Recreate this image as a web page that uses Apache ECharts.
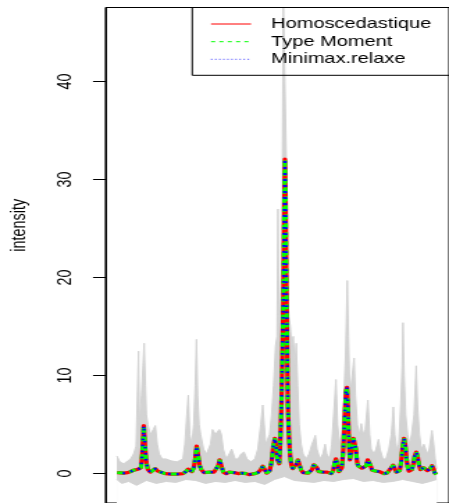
<!DOCTYPE html>
<html><head><meta charset="utf-8">
<script src="https://cdn.jsdelivr.net/npm/echarts@6/dist/echarts.min.js"></script>
<style>
html,body{margin:0;padding:0;background:#fff;overflow:hidden;width:449px;height:503px}
#chart{width:323px;height:503px;transform:scaleX(1.39009);transform-origin:0 0;}
</style>
</head><body><div id="chart"></div>
<script>
// ---- data (x = spectral index, y = intensity) ----
const seriesNames = ['Homoscedastique', 'Type Moment', 'Minimax.relaxe'];
const seriesColors = ['#ff0000', '#00ff00', '#0000ff'];
const yTicks = [0, 10, 20, 30, 40];

const meanX = [0.3,3,7,11,14,17,19.5,21.5,23,24.5,25.8,27.3,28.5,29.8,31.5,34,36.5,39,41.5,44,49,55,61,67,70,72.3,74,76,78,79.5,81,82.5,84,86,88.5,91,94,96.3,98.5,101,102.8,104.3,106,108,111,114,116.3,119,123,127,129,131,134,137,140,143,146,148,150,152,153.5,155,157,158.7,160.3,161.8,163,164.7,165.7,167,168,169,169.8,170.5,171.3,172.3,173.5,174.5,175.7,177,178.5,180,181.7,183.7,185.3,187,189,191.3,194,196,198,199.8,201.3,203,204.8,206.8,209.3,211.3,213.3,215.5,217.5,219.5,221,222.3,223.8,225.3,226.8,228.3,229.8,231.3,232.5,233.5,234.5,235.5,236.5,237.5,238.7,240,241.3,242.5,243.7,244.7,246,247.3,248.7,250,251.5,253,254.5,256,257.5,259,261,263,264.7,266.5,268.5,271,274,276.5,278.5,280.3,282,283.5,285.5,287,288.5,289.8,291.3,292.5,293.8,295,296.3,297.8,299.3,300.8,302.3,303.7,305,306.5,308,309.5,311,312.3,313.8,315,316.5,318,319.7,321.2,322.5,324];
const meanVals = [0.1,0.0,0.05,0.1,0.2,0.35,0.55,0.45,0.3,0.6,2.0,4.9,3.0,1.2,0.4,0.15,0.25,0.5,0.25,0.05,0.0,-0.05,-0.05,0.0,0.2,0.45,0.25,0.2,0.6,1.5,2.8,1.8,0.8,0.35,0.1,0.05,0.15,0.3,0.15,0.2,0.8,1.4,0.8,0.15,0.0,0.15,0.35,0.1,0.0,0.05,0.1,0.0,-0.1,-0.05,0.0,0.1,0.4,0.75,0.4,0.05,-0.1,0.3,1.2,2.8,3.6,2.6,1.4,1.0,3.0,7,12,18,27,32.1,28,17,7,4,2.0,0.9,0.5,0.5,0.9,1.4,0.9,0.35,0.1,0.0,0.05,0.1,0.4,0.9,1.1,0.6,0.2,0.05,0.15,0.35,0.15,-0.05,0.0,0.3,1.1,1.5,0.9,0.2,0.1,0.6,2.5,6.0,8.4,8.8,6.5,3.0,1.4,1.5,2.8,3.6,3.8,2.5,1.2,0.8,0.85,0.9,0.55,0.45,0.5,0.8,1.4,1.4,0.8,0.35,0.15,0.25,0.4,0.2,0.05,0.0,0.05,0.2,0.6,0.85,0.5,0.15,0.05,0.3,1.2,2.6,3.6,3.0,1.6,0.7,0.25,0.1,0.4,1.0,1.8,2.2,1.8,0.9,0.4,0.3,0.6,0.7,0.5,0.3,0.2,0.5,0.8,0.5,0.1,-0.1];

// upper envelope of the individual (grey) spectra
const greyHighX = [0,3,7,11,14,17,19.5,21,22,23,25,26.5,27.7,29,30,31.5,34,37,39,41,43,46,50,55,61,67,69,71,72.5,74,76,78,79.5,80.8,82,83.5,85,88,91,95,97,100,102,104,106,108,111,114,116.5,120,123,126,129,132,136,140,143,146,148,149.5,151,153,155,157,159,161,162.5,163.5,164.5,166,167.5,168.8,171.2,172.3,173.3,174.5,176,177.5,179,180.5,182,183.5,185,187,189,192,195,198,200,201.3,203,206,209,211.3,213,216,218,220,222.3,224,226,228,230,232,233.8,235,236.5,238,240.7,242,244,246,248,250,252,254.7,256.5,258,261,263,265.5,267,270,273,276,278.5,280.5,282,284,286,288,289.5,290.3,291.5,293,295,297,299,301.5,303.7,305,307,309,311.5,313,315,317,319.7,321.5,323,324.5];
const greyHigh = [1.8,1.2,1.0,1.3,1.5,2.0,2.8,3.0,12.5,5,8,11,13.3,9,6,5,4,4.5,4.9,3,2,1.5,1.5,1.3,1.2,1.5,3,6,8,4,3,5,9,13.7,8,5,4,2.5,2,3,4.5,4.0,4.2,4.5,4,2.5,1.5,2,2.5,1.5,1.5,2,2.2,1.5,1.2,1.5,2.5,5,7,5,3,3,4,6,9,13,14,27,15,17,22,49,49,30,18,16,15,13,14,11,13.3,9,5,3,2,1.5,2,3,3.5,3.9,2.5,1.5,2,3.0,2,1.5,3,6,9.6,5,3,4,7,12,19.7,14,8,8,11.8,8,5,4,5.1,4,4.5,7.5,4,2.5,2,2.5,3.5,2.5,1.5,1.5,2.5,4,6.8,4,2.5,3,7,11,15.4,10,6,4,3,4,6,11,7,4,2.5,3,3.0,2,2.5,4.4,3,1.5,0.5];

// lower envelope of the individual (grey) spectra
const greyLowX = [0,5,12,20,30,40,50,60,70,80,90,100,110,120,130,140,150,160,170,180,190,200,210,220,230,240,250,260,270,280,290,300,310,318,324.5];
const greyLow = [-0.6,-1.0,-0.8,-1.2,-0.7,-1.0,-0.8,-0.9,-0.6,-0.7,-1.0,-0.8,-0.9,-0.7,-0.9,-0.8,-1.1,-0.6,-0.3,-0.7,-0.8,-0.9,-0.7,-0.8,-0.6,-0.5,-0.8,-0.7,-0.9,-0.8,-0.6,-0.8,-1.0,-0.8,-0.6];

const pairs = (xs, ys) => xs.map((x, i) => [x, ys[i]]);

const FONT = "'Liberation Sans', Arial, Helvetica, sans-serif";
const GREY = '#d3d3d3';

// legend drawn as graphic elements (R style box legend)
const legendDash = [null, [3, 3], [0.75, 2.2]];
const legendRowY = [24, 41.7, 59.3];
const legendGraphic = [{
  type: 'rect', shape: {x: 138.3, y: 7.5, width: 220, height: 67.8},
  style: {fill: 'none', stroke: '#000', lineWidth: 1}, z: 100
}];
seriesNames.forEach((n, i) => {
  legendGraphic.push({
    type: 'line', shape: {x1: 151.8, y1: legendRowY[i], x2: 180.6, y2: legendRowY[i]},
    style: {stroke: seriesColors[i], lineWidth: 1, lineDash: legendDash[i]}, z: 100
  });
  legendGraphic.push({
    type: 'text', x: 195, y: legendRowY[i],
    style: {text: n, font: '14.4px ' + FONT, fill: '#000', align: 'left', verticalAlign: 'middle'}, z: 100
  });
});

const chart = echarts.init(document.getElementById('chart'), null, {renderer: 'canvas'});
chart.setOption({
  animation: false,
  backgroundColor: '#ffffff',
  grid: {
    left: 75.9, top: 7.5, width: 250.7, height: 497,
    show: true, borderColor: '#000', borderWidth: 1, backgroundColor: 'transparent',
    containLabel: false
  },
  xAxis: {
    type: 'value', min: -11.5, max: 337, show: false
  },
  yAxis: {
    type: 'value', min: -3, max: 47.56,
    axisLine: {show: true, onZero: false, lineStyle: {color: '#000', width: 1}},
    axisTick: {show: true, length: 9, customValues: yTicks, lineStyle: {color: '#000', width: 1}},
    axisLabel: {show: true, customValues: yTicks, rotate: 90, margin: 22,
      fontSize: 14.4, fontFamily: FONT, color: '#000'},
    splitLine: {show: false}
  },
  graphic: [{
    type: 'text', x: 13.8, y: 225.3, rotation: Math.PI / 2,
    style: {text: 'intensity', font: '14.4px ' + FONT, fill: '#000', align: 'center', verticalAlign: 'middle'}
  }].concat(legendGraphic),
  series: [
    {
      name: 'spectra_max', type: 'line', data: pairs(greyHighX, greyHigh),
      symbol: 'none', silent: true,
      lineStyle: {color: GREY, width: 1},
      areaStyle: {color: GREY, opacity: 1, origin: 'start'}
    },
    {
      name: 'spectra_min', type: 'line', data: pairs(greyLowX, greyLow),
      symbol: 'none', silent: true,
      lineStyle: {color: GREY, width: 1},
      areaStyle: {color: '#ffffff', opacity: 1, origin: 'start'}
    },
    {
      name: seriesNames[0], type: 'line', data: pairs(meanX, meanVals),
      symbol: 'none', color: seriesColors[0],
      lineStyle: {color: seriesColors[0], width: 3.2, cap: 'butt', join: 'round'}
    },
    {
      name: seriesNames[1], type: 'line', data: pairs(meanX, meanVals),
      symbol: 'none', color: seriesColors[1],
      lineStyle: {color: seriesColors[1], width: 3, type: [5, 4], cap: 'butt'}
    },
    {
      name: seriesNames[2], type: 'line', data: pairs(meanX, meanVals),
      symbol: 'none', color: seriesColors[2],
      lineStyle: {color: seriesColors[2], width: 2.4, type: [1.6, 4.4], dashOffset: 2, cap: 'butt'}
    }
  ]
});
</script>
</body></html>
